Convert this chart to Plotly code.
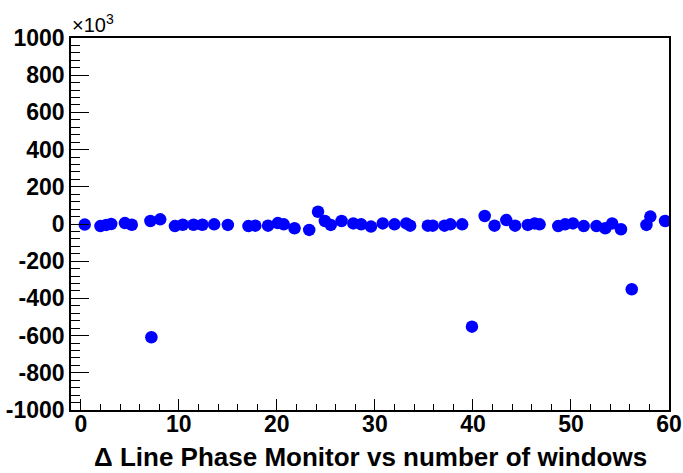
import plotly.graph_objects as go

# Delta line phase per window (values in units of 10^3)
windows = [0.4, 2.0, 2.6, 3.1, 4.5, 5.2, 7.1, 7.2, 8.1, 9.6, 10.4, 11.5, 12.4, 13.6, 15.0,
           17.1, 17.8, 19.1, 20.1, 20.7, 21.8, 23.3, 24.2, 24.9, 25.5, 26.6, 27.8, 28.6,
           29.6, 30.8, 32.0, 33.2, 33.6, 35.4, 35.9, 37.1, 37.7, 38.9, 39.9, 41.2, 42.2,
           43.4, 44.3, 45.6, 46.3, 46.8, 48.7, 49.4, 50.2, 51.3, 52.6, 53.5, 54.2, 55.1,
           56.2, 57.7, 58.1, 59.6]
delta_phase_k = [-3, -11, -5, 0, 5, -4, 16, -609, 25, -11, -4, -4, -4, -2, -5,
                 -11, -9, -9, 5, -2, -23, -32, 66, 16, -5, 16, 3, -2,
                 -14, 3, -2, 3, -9, -9, -9, -9, -2, -2, -552, 43, -9,
                 21, -9, -5, 3, -2, -11, -2, 3, -11, -11, -23, 3, -28,
                 -351, -5, 40, 16]

x_ticks = [0, 10, 20, 30, 40, 50, 60]
x_ticklabels = ["0", "10", "20", "30", "40", "50", "60"]
y_ticks = [-1000, -800, -600, -400, -200, 0, 200, 400, 600, 800, 1000]
y_ticklabels = ["-1000", "-800", "-600", "-400", "-200", "0", "200", "400", "600", "800", "1000"]

FONT = "Liberation Sans, Arial, sans-serif"

fig = go.Figure(go.Scatter(
    x=windows, y=delta_phase_k, mode="markers",
    marker=dict(symbol="circle", size=12.5, color="#0000ff", line=dict(width=0)),
    showlegend=False,
))

fig.update_layout(
    width=683, height=473,
    margin=dict(l=71, r=14, t=38, b=63, autoexpand=False),
    paper_bgcolor="white", plot_bgcolor="white",
    font=dict(family=FONT, color="black"),
)

fig.update_xaxes(
    range=[-1, 60], showgrid=False, zeroline=False, automargin=False,
    showline=True, linecolor="black", linewidth=1.5, mirror=True,
    tickmode="array", tickvals=x_ticks, ticktext=x_ticklabels,
    ticks="inside", ticklen=11, tickwidth=1, tickcolor="black",
    minor=dict(ticks="inside", ticklen=6, tickwidth=1, tickcolor="black",
               tick0=0, dtick=2, showgrid=False),
    tickfont=dict(family=FONT, size=23, color="black", weight="bold"),
    ticklabelstandoff=-7,
)

fig.update_yaxes(
    range=[-1000, 1000], showgrid=False, zeroline=False, automargin=False,
    showline=True, linecolor="black", linewidth=1.5, mirror=True,
    tickmode="array", tickvals=y_ticks, ticktext=y_ticklabels,
    ticks="inside", ticklen=18, tickwidth=1, tickcolor="black",
    minor=dict(ticks="inside", ticklen=9, tickwidth=1, tickcolor="black",
               tick0=0, dtick=40, showgrid=False),
    tickfont=dict(family=FONT, size=23, color="black", weight="bold"),
)

fig.add_annotation(
    xref="paper", yref="paper", x=0.5, y=-0.126, yanchor="middle", xanchor="center",
    text="\u0394 Line Phase Monitor vs number of windows", showarrow=False,
    font=dict(family=FONT, size=26, color="black", weight="bold"),
)
fig.add_annotation(
    xref="paper", yref="paper", x=-0.002, y=1.0, yanchor="bottom", xanchor="left",
    text="\u00d710<sup>3</sup>", showarrow=False,
    font=dict(family=FONT, size=20, color="black"),
)

fig.write_html("out.html")
